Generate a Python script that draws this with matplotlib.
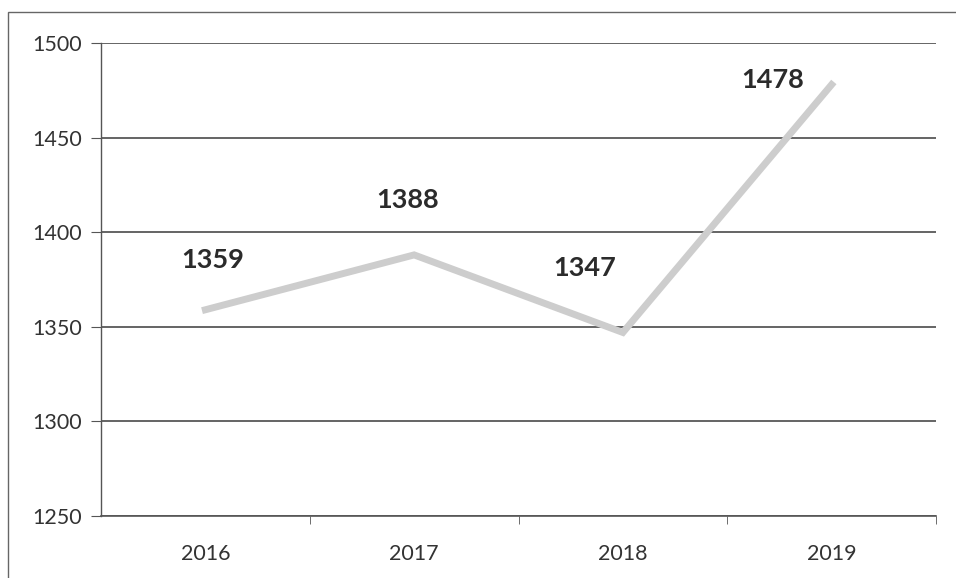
import matplotlib
matplotlib.use("Agg")
import matplotlib.pyplot as plt
from matplotlib.patches import Rectangle

years = ["2016", "2017", "2018", "2019"]
values = [1359, 1388, 1347, 1478]
yticks = [1250, 1300, 1350, 1400, 1450, 1500]
# label offsets in pixels (dx, dy) relative to data point
label_offsets = [(7, 50), (-7, 55), (-38, 64), (-59, 5)]

plt.rcParams['font.family'] = ['Lato', 'DejaVu Sans']

fig = plt.figure(figsize=(9.56, 5.78), dpi=100)
fig.patch.set_facecolor('white')
fig.patches.append(Rectangle((8/956, -0.01), 1.0, 1 - 12/578 + 0.01, transform=fig.transFigure,
                             fill=False, edgecolor='#666666', linewidth=1.0))

ax = fig.add_axes([101/956, 1 - 516/578, (936 - 101)/956, (516 - 43)/578])
x = list(range(len(years)))
ax.plot(x, values, color='#cdcdcd', linewidth=5, solid_joinstyle='miter', zorder=3)

ax.set_xlim(-0.5, len(years) - 0.5)
ax.set_ylim(1250, 1500)
ax.set_yticks(yticks)
ax.set_yticklabels([str(v) for v in yticks], fontsize=15.5, color='#333333')
ax.set_xticks(x)
ax.set_xticklabels(years, fontsize=15.5, color='#333333')
ax.tick_params(axis='x', length=0, pad=20)
ax.set_xticks([i + 0.5 for i in range(len(years))], minor=True)
ax.tick_params(axis='x', which='minor', length=6, color='#555555', direction='out')
ax.tick_params(axis='y', length=7, color='#555555', direction='out', pad=7)

ax.grid(axis='y', color='#4a4a4a', linewidth=1.2)
ax.set_axisbelow(True)
for s in ['top', 'right']:
    ax.spines[s].set_visible(False)
ax.spines['left'].set_color('#555555')
ax.spines['bottom'].set_color('#555555')
ax.spines['left'].set_linewidth(1.0)
ax.spines['bottom'].set_linewidth(1.2)

for xi, v, (dx, dy) in zip(x, values, label_offsets):
    ax.annotate(str(v), (xi, v), xytext=(dx * 0.72, dy * 0.72), textcoords='offset points',
                ha='center', va='center', fontsize=19.5, fontweight='bold', color='#2b2b2b')

fig.savefig("out.png", dpi=100)
